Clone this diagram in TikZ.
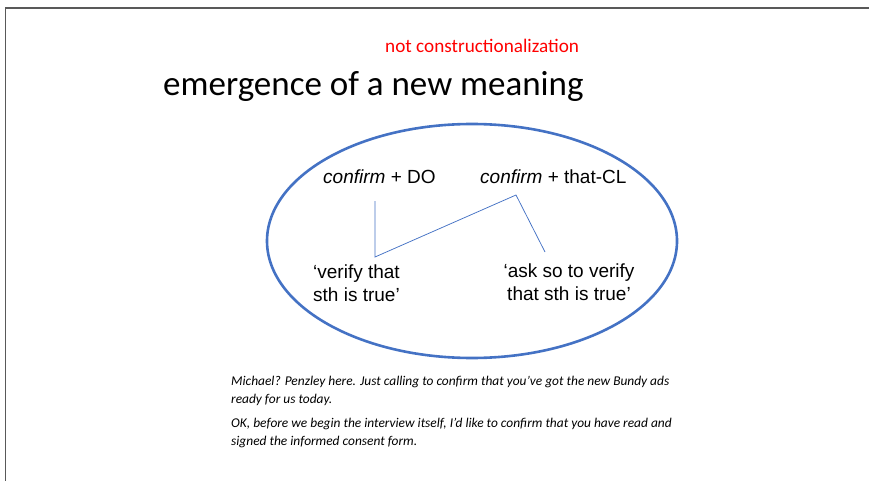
\documentclass[tikz,border=0pt]{standalone}
\usepackage{fontspec}
\setmainfont{Carlito}
\newfontfamily\arialfont{Liberation Sans}
\usetikzlibrary{shapes.geometric}
\definecolor{slideblue}{HTML}{4472C4}
\tikzset{
    form/.style={font=\arialfont\fontsize{19}{22}\selectfont, inner sep=0pt, anchor=west},
    sense/.style={font=\arialfont\fontsize{19}{22.5}\selectfont, inner sep=0pt},
    link/.style={slideblue, line width=0.75pt},
    example/.style={font=\itshape\fontsize{13.4}{17.5}\selectfont, inner sep=0pt, anchor=west, align=left}
}

\begin{document}
\begin{tikzpicture}[x=1pt, y=-1pt]
    \useasboundingbox (0,0) rectangle (869,481);
    \draw[black!65, line width=1.3pt] (5.5,481) -- (5.5,8) -- (869,8);

    \node[text=red, font=\fontsize{19.2}{22}\selectfont, inner sep=0pt, anchor=west] (note) at (385, 46) {not constructionalization};
    \node[font=\fontsize{35}{40}\selectfont, inner sep=0pt, anchor=west] (title) at (163, 86) {emergence of a new meaning};

    \node[ellipse, draw=slideblue, line width=2.6pt, minimum width=410pt, minimum height=234pt] (oval) at (472, 241) {};

    \node[form] (doForm) at (323, 177) {\textit{confirm} + DO};
    \node[form] (clForm) at (480, 177) {\textit{confirm} + that-CL};
    \node[sense, anchor=west, align=left] (oldSense) at (313, 283) {‘verify that\\sth is true’};
    \node[sense, align=center] (newSense) at (569, 282) {‘ask so to verify\\that sth is true’};

    \coordinate (doTop) at (375, 201);
    \coordinate (doFoot) at (375, 257);
    \coordinate (clTop) at (516, 195);
    \coordinate (clFoot) at (545, 252);
    \draw[link] (doTop) -- (doFoot) -- (clTop) -- (clFoot);

    \node[example] (exA) at (231, 391) {Michael? Penzley here. Just calling to confirm that you’ve got the new Bundy ads\\ready for us today.};
    \node[example] (exB) at (231, 433) {OK, before we begin the interview itself, I’d like to confirm that you have read and\\signed the informed consent form.};
\end{tikzpicture}
\end{document}
